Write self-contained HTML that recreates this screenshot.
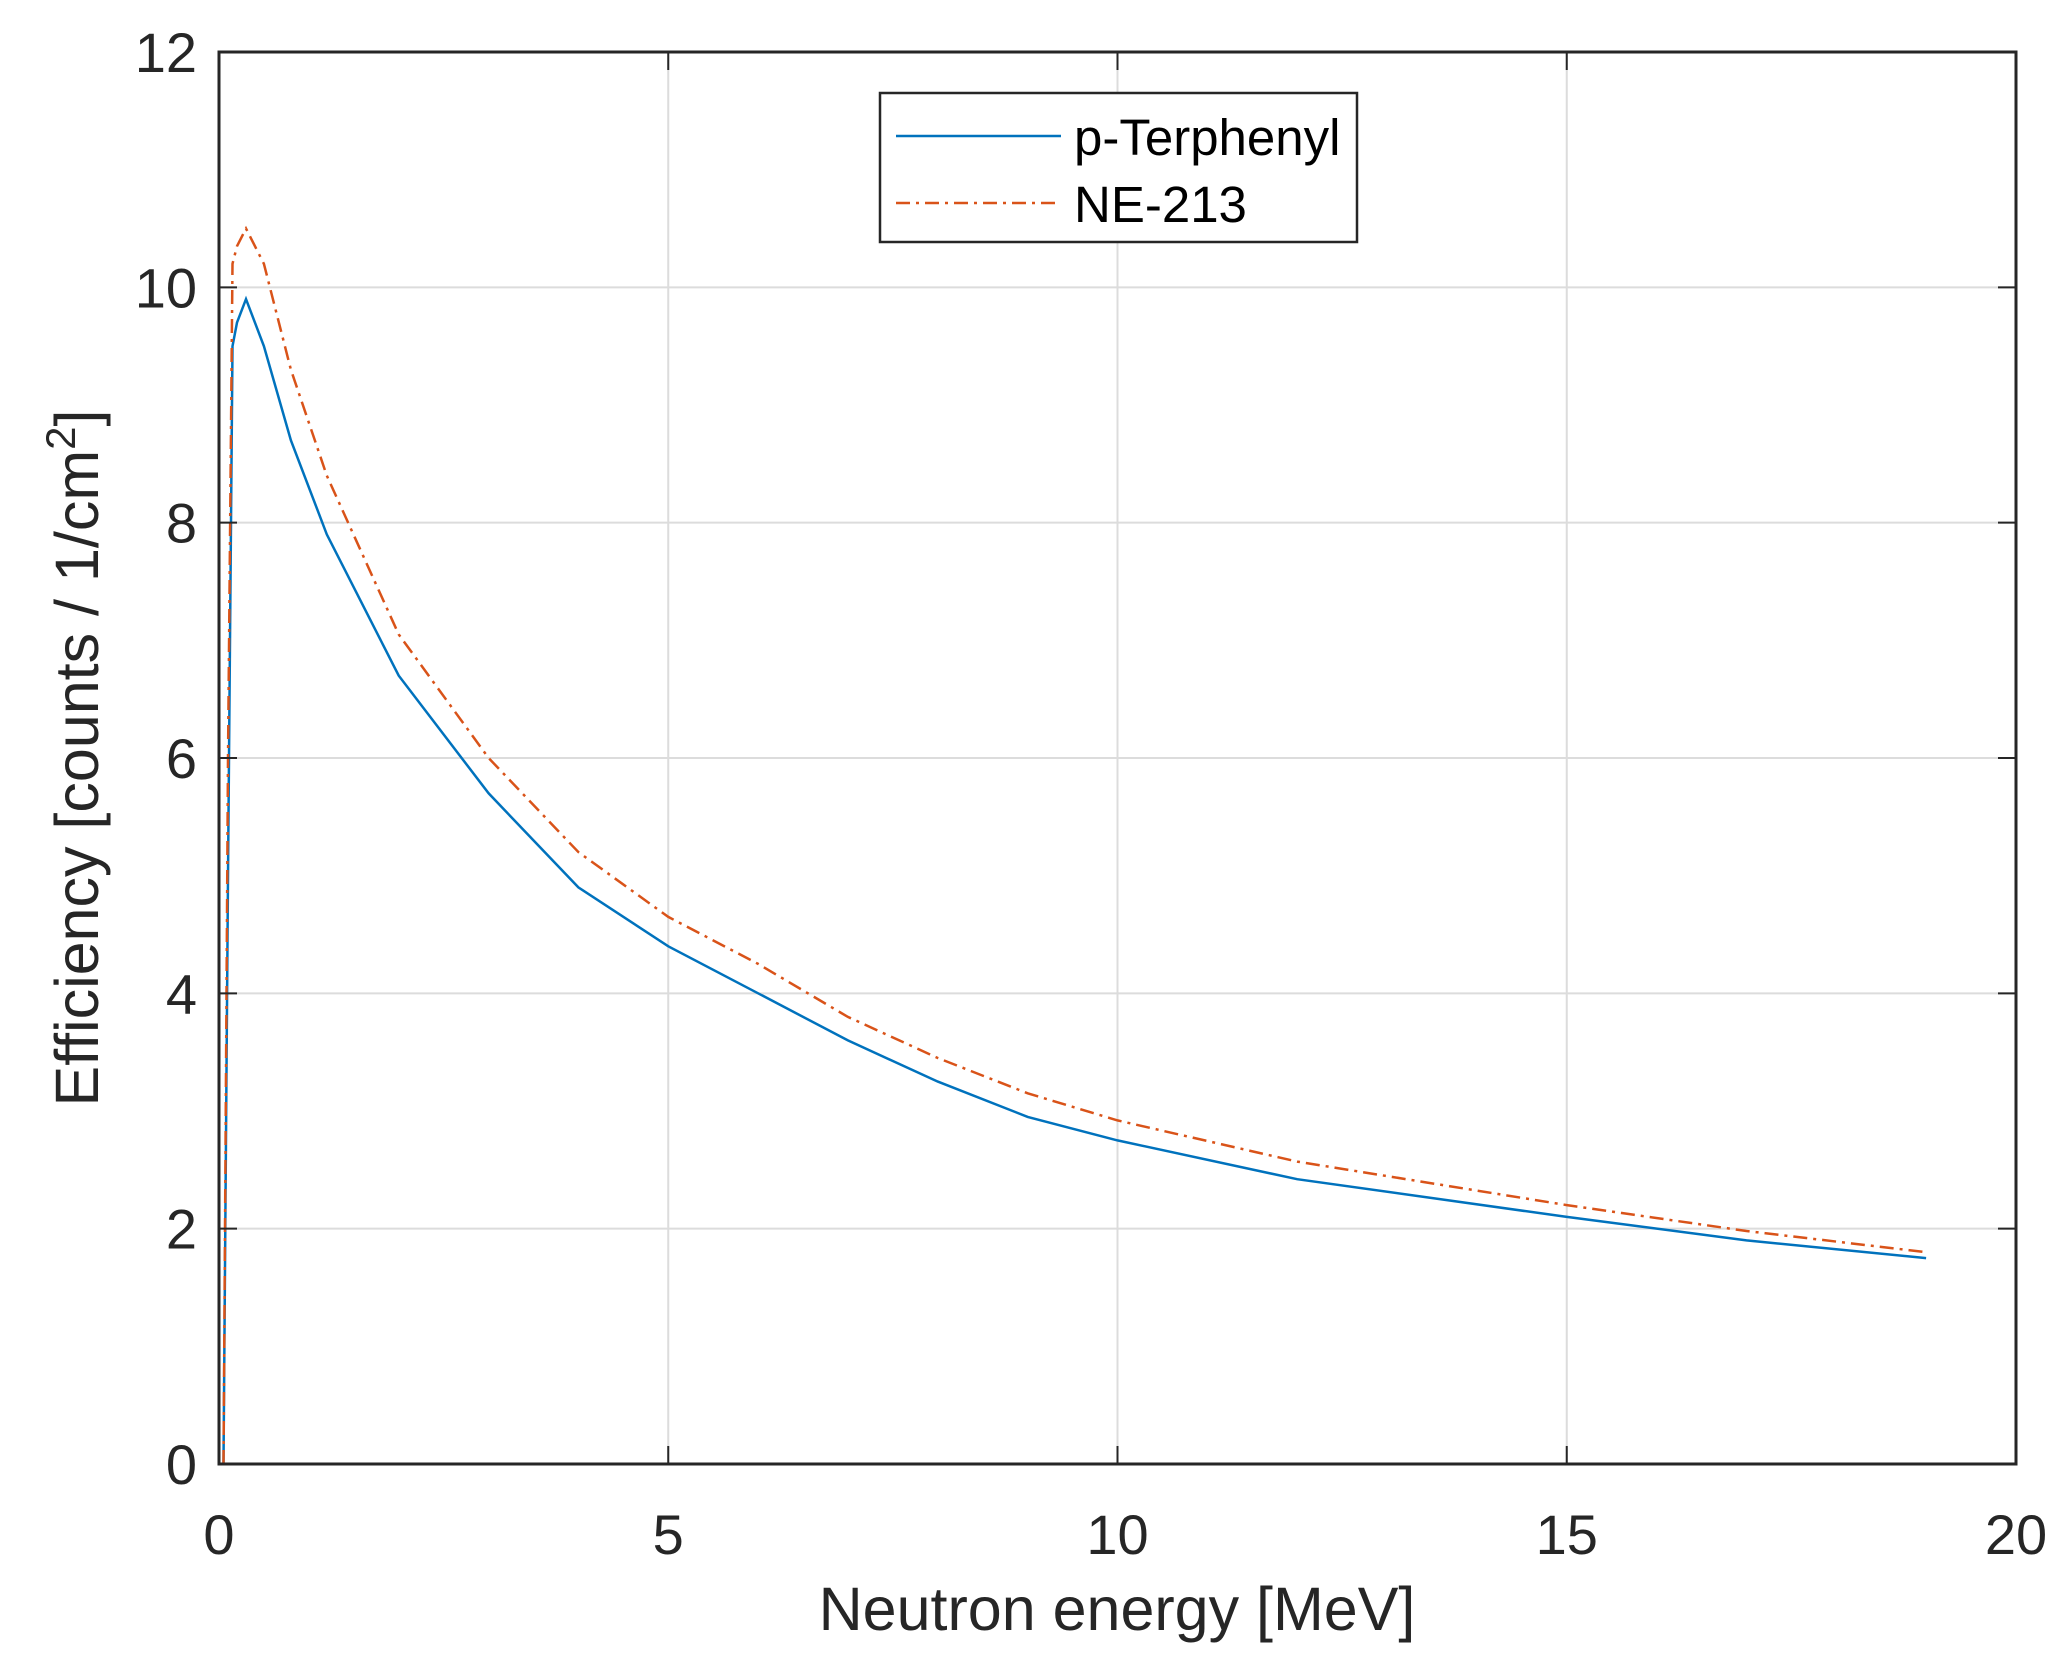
<!DOCTYPE html>
<html><head><meta charset="utf-8"><style>
html,body{margin:0;padding:0;background:#fff;}
svg{display:block;font-family:"Liberation Sans",Arial,sans-serif;}
</style></head><body>
<svg id="chart" width="2066" height="1657" viewBox="0 0 2066 1657" xmlns="http://www.w3.org/2000/svg">
<g id="grid"></g>
<g id="series"></g>
<rect x="219" y="52" width="1797" height="1412" fill="none" stroke="#262626" stroke-width="3"/>
<g id="ticks"></g>
<text x="1117" y="1630" font-size="61" fill="#262626" text-anchor="middle">Neutron energy [MeV]</text>
<text transform="translate(98,758) rotate(-90)" font-size="61" fill="#262626" text-anchor="middle">Efficiency [counts / 1/cm<tspan dy="-23" font-size="42">2</tspan><tspan dy="23">]</tspan></text>
<g>
<rect x="880" y="93" width="477" height="149" fill="#fff" stroke="#262626" stroke-width="2.5"/>
<line x1="896" y1="136" x2="1061" y2="136" stroke="#0072BD" stroke-width="2.5"/>
<text x="1074" y="155" font-size="51" fill="#000">p-Terphenyl</text>
<line x1="896" y1="203" x2="1061" y2="203" stroke="#D95319" stroke-width="2.5" stroke-dasharray="14,6,3,6"/>
<text x="1074" y="222" font-size="51" fill="#000">NE-213</text>
</g>
</svg>
<script>
const xTicks=[0,5,10,15,20];
const yTicks=[0,2,4,6,8,10,12];
const energy=[0.05,0.1,0.15,0.2,0.3,0.5,0.8,1.2,2,3,4,5,6,7,8,9,10,12,15,17,19];
const pTerphenyl=[0,5,9.5,9.7,9.9,9.5,8.7,7.9,6.7,5.7,4.9,4.4,4.0,3.6,3.25,2.95,2.75,2.42,2.1,1.9,1.75];
const ne213=[0,6,10.2,10.35,10.5,10.2,9.3,8.4,7.05,6.0,5.2,4.65,4.25,3.8,3.45,3.15,2.92,2.57,2.2,1.98,1.8];
const X0=219,X1=2016,Y0=1464,Y1=52;
const sx=v=>X0+(v-0)/(20-0)*(X1-X0);
const sy=v=>Y0-(v-0)/(12-0)*(Y0-Y1);
const NS='http://www.w3.org/2000/svg';
const grid=document.getElementById('grid'),ticks=document.getElementById('ticks'),series=document.getElementById('series');
function mk(tag,attrs,parent){const e=document.createElementNS(NS,tag);for(const k in attrs)e.setAttribute(k,attrs[k]);parent.appendChild(e);return e;}
xTicks.forEach(t=>{
  const x=sx(t);
  const g=mk('line',{x1:x,y1:Y1,x2:x,y2:Y0,stroke:'#dcdcdc','stroke-width':2},grid);
  
  
  const a=mk('line',{x1:x,y1:Y0,x2:x,y2:Y0-18,stroke:'#262626','stroke-width':2},ticks);
  
  
  const b=mk('line',{x1:x,y1:Y1,x2:x,y2:Y1+18,stroke:'#262626','stroke-width':2},ticks);
  
  
  const l=mk('text',{x:x,y:1554,'font-size':56,fill:'#262626','text-anchor':'middle'},ticks);
  l.textContent=t;
  
  
});
yTicks.forEach(t=>{
  const y=sy(t);
  const g=mk('line',{x1:X0,y1:y,x2:X1,y2:y,stroke:'#dcdcdc','stroke-width':2},grid);
  
  
  const a=mk('line',{x1:X0,y1:y,x2:X0+18,y2:y,stroke:'#262626','stroke-width':2},ticks);
  
  
  const b=mk('line',{x1:X1,y1:y,x2:X1-18,y2:y,stroke:'#262626','stroke-width':2},ticks);
  
  
  const l=mk('text',{x:X0-22,y:y+20,'font-size':56,fill:'#262626','text-anchor':'end'},ticks);
  l.textContent=t;
  
  
});
function pts(ys){return energy.map((e,i)=>sx(e).toFixed(1)+','+sy(ys[i]).toFixed(1)).join(' ');}
const p1=mk('polyline',{points:pts(pTerphenyl),fill:'none',stroke:'#0072BD','stroke-width':2.5},series);


const p2=mk('polyline',{points:pts(ne213),fill:'none',stroke:'#D95319','stroke-width':2.5,'stroke-dasharray':'14,6,3,6'},series);


</script>
</body></html>
